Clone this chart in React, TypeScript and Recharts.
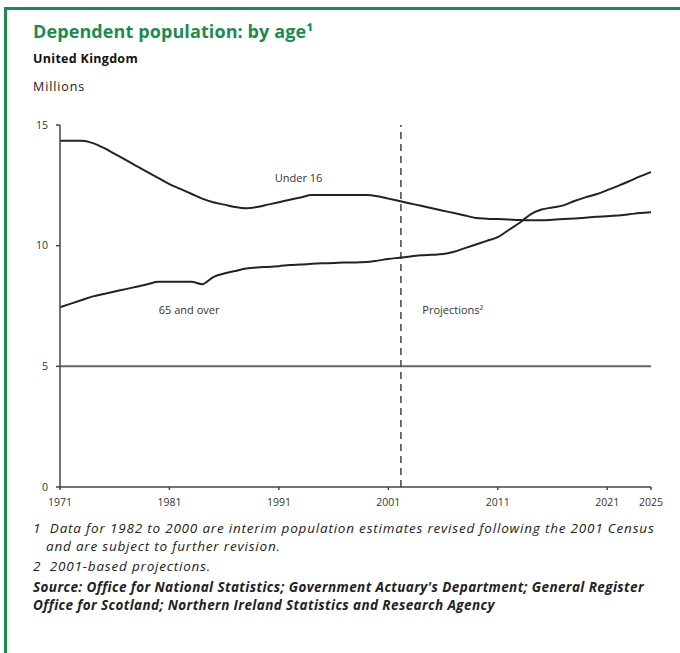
import React from 'react';
import { LineChart, Line, XAxis, YAxis, ReferenceLine, ReferenceDot } from 'recharts';

const years = [
  1971, 1972, 1973, 1974, 1975, 1976, 1977, 1978, 1979, 1980,
  1981, 1982, 1983, 1984, 1985, 1986, 1987, 1988, 1989, 1990,
  1991, 1992, 1993, 1994, 1995, 1996, 1997, 1998, 1999, 2000,
  2001, 2002, 2003, 2004, 2005, 2006, 2007, 2008, 2009, 2010,
  2011, 2012, 2013, 2014, 2015, 2016, 2017, 2018, 2019, 2020,
  2021, 2022, 2023, 2024, 2025,
];

const under16 = [
  14.35, 14.35, 14.35, 14.25, 14.05, 13.8, 13.55, 13.3, 13.05, 12.8,
  12.55, 12.35, 12.15, 11.95, 11.8, 11.7, 11.6, 11.55, 11.6, 11.7,
  11.8, 11.9, 12.0, 12.1, 12.1, 12.1, 12.1, 12.1, 12.1, 12.05,
  11.95, 11.85, 11.75, 11.65, 11.55, 11.45, 11.35, 11.25, 11.15, 11.12,
  11.1, 11.08, 11.06, 11.05, 11.05, 11.07, 11.1, 11.13, 11.16, 11.2,
  11.22, 11.25, 11.3, 11.35, 11.38,
];

const over65 = [
  7.45, 7.6, 7.75, 7.9, 8.0, 8.1, 8.2, 8.3, 8.4, 8.5,
  8.5, 8.5, 8.5, 8.4, 8.7, 8.85, 8.95, 9.05, 9.1, 9.12,
  9.15, 9.2, 9.22, 9.25, 9.27, 9.28, 9.3, 9.3, 9.32, 9.38,
  9.45, 9.5, 9.55, 9.6, 9.62, 9.65, 9.75, 9.9, 10.05, 10.2,
  10.35, 10.65, 10.95, 11.3, 11.5, 11.58, 11.67, 11.85, 12.0, 12.13,
  12.3, 12.48, 12.67, 12.87, 13.05,
];

const xTicks = [1971, 1981, 1991, 2001, 2011, 2021, 2025];
const yTicks = [0, 5, 10, 15];
const projectionStart = 2002.15;

const seriesLabels = [
  { text: 'Under 16', x: 1992.8, y: 12.8 },
  { text: '65 and over', x: 1982.8, y: 7.33 },
  { text: 'Projections²', x: 2006.9, y: 7.33 },
];

const data = years.map((year, i) => ({ year, under16: under16[i], over65: over65[i] }));

const GREEN = '#1a8c4e';
const FONT = '"Open Sans", "Noto Sans", Arial, sans-serif';

export default function App() {
  return (
    <div style={{ position: 'absolute', left: 0, top: 0, width: 680, height: 653, background: '#fff', overflow: 'hidden', fontFamily: FONT }}>
      <div style={{ position: 'absolute', left: 4, top: 7, width: 676, height: 3, background: GREEN }} />
      <div style={{ position: 'absolute', left: 4, top: 7, width: 3, height: 646, background: GREEN }} />
      <div style={{ position: 'absolute', left: 33, top: 20, fontSize: 18, fontWeight: 700, color: GREEN, whiteSpace: 'nowrap', lineHeight: '22px', letterSpacing: 0.1 }}>
        Dependent population: by age¹
      </div>
      <div style={{ position: 'absolute', left: 33, top: 51, fontSize: 12.5, fontWeight: 700, color: '#111', whiteSpace: 'nowrap', lineHeight: '16px', letterSpacing: 0.3 }}>
        United Kingdom
      </div>
      <div style={{ position: 'absolute', left: 33, top: 79, fontSize: 12.5, color: '#222', whiteSpace: 'nowrap', lineHeight: '16px', letterSpacing: 0.9 }}>
        Millions
      </div>
      <div style={{ position: 'absolute', left: 0, top: 0 }}>
        <LineChart width={680} height={653} data={data} margin={{ top: 125, right: 29, bottom: 136, left: 30 }}>
          <XAxis
            type="number"
            dataKey="year"
            domain={[1971, 2025]}
            ticks={xTicks}
            interval={0}
            tickSize={3}
            tickMargin={9}
            height={30}
            stroke="#444"
            strokeWidth={1.5}
            tick={{ fontSize: 10.5, fill: '#333', fontFamily: FONT }}
          />
          <YAxis
            type="number"
            domain={[0, 15]}
            ticks={yTicks}
            interval={0}
            tickSize={4}
            tickMargin={8}
            width={30}
            stroke="#444"
            strokeWidth={1.5}
            tick={{ fontSize: 10.5, fill: '#333', fontFamily: FONT }}
          />
          <ReferenceLine y={5} stroke="#666" strokeWidth={2} />
          <ReferenceLine x={projectionStart} stroke="#444" strokeWidth={1.5} strokeDasharray="7 5" />
          <Line type="monotone" dataKey="under16" stroke="#222" strokeWidth={2} dot={false} isAnimationActive={false} />
          <Line type="monotone" dataKey="over65" stroke="#222" strokeWidth={2} dot={false} isAnimationActive={false} />
          {seriesLabels.map((l) => (
            <ReferenceDot
              key={l.text}
              x={l.x}
              y={l.y}
              r={0}
              fill="none"
              stroke="none"
              label={{ value: l.text, position: 'center', fontSize: 11, fill: '#333', fontFamily: FONT }}
            />
          ))}
        </LineChart>
      </div>
      <div style={{ position: 'absolute', left: 33, top: 519, fontSize: 13.5, fontStyle: 'italic', color: '#222', lineHeight: '18px', whiteSpace: 'nowrap', letterSpacing: 0.8 }}>
        <div>1&nbsp; Data for 1982 to 2000 are interim population estimates revised following the 2001 Census</div>
        <div style={{ paddingLeft: 13 }}>and are subject to further revision.</div>
        <div style={{ marginTop: 2 }}>2&nbsp; 2001-based projections.</div>
        <div style={{ fontWeight: 700, marginTop: 3, letterSpacing: 0.4 }}>Source: Office for National Statistics; Government Actuary's Department; General Register</div>
        <div style={{ fontWeight: 700, letterSpacing: 0.4 }}>Office for Scotland; Northern Ireland Statistics and Research Agency</div>
      </div>
    </div>
  );
}
